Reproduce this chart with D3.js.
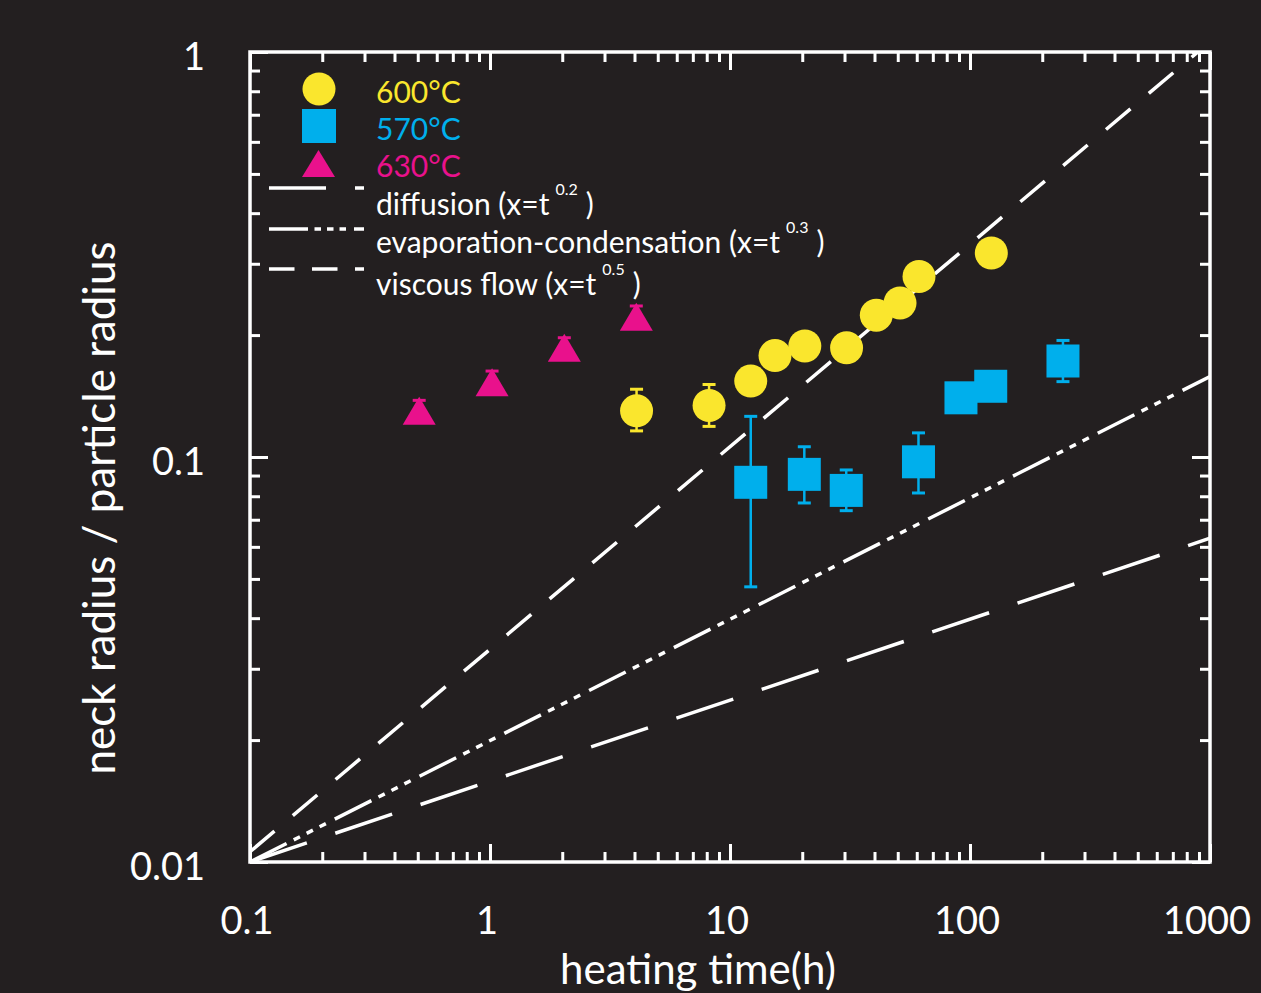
<!DOCTYPE html>
<html><head><meta charset="utf-8">
<script src="https://cdn.jsdelivr.net/npm/d3@7"></script>
<style>
html,body{margin:0;padding:0;background:#231f20;}
svg{display:block;}
text{font-family:Lato,"Open Sans",sans-serif;}
</style></head><body>
<svg id="chart" width="1261" height="993"></svg>
<script>
// ---------- data ----------
const xTickValues = [0.1, 1, 10, 100, 1000];
const xTickLabels = ["0.1", "1", "10", "100", "1000"];
const yTickValues = [0.01, 0.1, 1];
const yTickLabels = ["0.01", "0.1", "1"];

// 600°C (circles)
const t600 = [4.08, 8.18, 12.2, 15.4, 20.5, 30.6, 40.7, 51.1, 61.3, 122.7];
const r600 = [0.130, 0.134, 0.154, 0.178, 0.188, 0.186, 0.224, 0.240, 0.279, 0.319];
const r600hi = [0.147, 0.151, null, null, null, null, null, null, null, null];
const r600lo = [0.116, 0.119, null, null, null, null, null, null, null, null];

// 570°C (squares)
const t570 = [12.2, 20.4, 30.5, 61.0, 91.7, 122, 244];
const r570 = [0.0866, 0.0906, 0.0827, 0.0973, 0.140, 0.1495, 0.1726];
const r570hi = [0.126, 0.106, 0.0929, 0.1147, null, null, 0.194];
const r570lo = [0.0478, 0.077, 0.0737, 0.0815, null, null, 0.1535];

// 630°C (triangles)
const t630 = [0.507, 1.02, 2.04, 4.07];
const r630 = [0.130, 0.153, 0.186, 0.222];
const r630hi = [0.138, 0.163, 0.197, 0.236];
const r630lo = [0.122, 0.143, 0.175, 0.208];

// model lines (end points)
const diffusionLine = [[0.1, 0.01], [1000, 0.063]];
const evapLine = [[0.1, 0.01], [1000, 0.158]];
const viscousLine = [[0.1, 0.0106], [1000, 1.06]];

const seriesNames = ["600°C", "570°C", "630°C"];
const lineNames = [
  ["diffusion (x=t", "0.2"],
  ["evaporation-condensation (x=t", "0.3"],
  ["viscous flow (x=t", "0.5"]
];

// ---------- styles ----------
const BG = "#231f20";
const YELLOW = "#fae62d", BLUE = "#00afec", MAGENTA = "#e9118c", WHITE = "#ffffff";

const svg = d3.select("#chart");
svg.append("rect").attr("width", 1261).attr("height", 993).attr("fill", BG);

const L = 250, R = 1210, T = 52, B = 862;
const x = d3.scaleLog().domain([0.1, 1000]).range([L, R]);
const y = d3.scaleLog().domain([0.01, 1]).range([B, T]);

svg.append("defs").append("clipPath").attr("id", "plotclip")
  .append("rect").attr("x", L).attr("y", T).attr("width", R - L).attr("height", B - T);

// ---------- model lines ----------
const lineGen = d3.line().x(d => x(d[0])).y(d => y(d[1]));
const gl = svg.append("g").attr("clip-path", "url(#plotclip)");
const lineStyles = [
  {data: diffusionLine, dash: "60,30"},
  {data: evapLine, dash: "41,8,7,7.5,7,7.5,7,10"},
  {data: viscousLine, dash: "32,24"}
];
lineStyles.forEach(s => {
  gl.append("path").attr("d", lineGen(s.data))
    .attr("fill", "none").attr("stroke", WHITE).attr("stroke-width", 3.5)
    .attr("stroke-dasharray", s.dash);
});

// ---------- axes ticks ----------
const xMinor = x.ticks().filter(v => !xTickValues.some(m => Math.abs(m - v) / m < 1e-6));
const yMinor = y.ticks().filter(v => !yTickValues.some(m => Math.abs(m - v) / m < 1e-6));

function tickAxis(axisFn, scale, vals, size, tx, ty) {
  const g = svg.append("g").attr("transform", `translate(${tx},${ty})`)
    .call(axisFn(scale).tickValues(vals).tickSize(-size).tickFormat(""));
  g.select(".domain").remove();
  g.selectAll(".tick line").attr("stroke", WHITE).attr("stroke-width", 3);
  return g;
}
tickAxis(d3.axisBottom, x, xTickValues, 18, 0, B);
tickAxis(d3.axisBottom, x, xMinor, 10, 0, B);
tickAxis(d3.axisTop, x, xTickValues, 18, 0, T);
tickAxis(d3.axisTop, x, xMinor, 10, 0, T);
tickAxis(d3.axisLeft, y, yTickValues, 18, L, 0);
tickAxis(d3.axisLeft, y, yMinor, 10, L, 0);
tickAxis(d3.axisRight, y, yTickValues, 18, R, 0);
tickAxis(d3.axisRight, y, yMinor, 10, R, 0);

svg.append("rect").attr("x", L).attr("y", T).attr("width", R - L).attr("height", B - T)
  .attr("fill", "none").attr("stroke", WHITE).attr("stroke-width", 3.5);

// tick labels
svg.append("g").selectAll("text").data(xTickValues).join("text")
  .attr("x", d => x(d) - 3).attr("y", 934).attr("text-anchor", "middle")
  .attr("fill", WHITE).attr("font-size", 38)
  .text((d, i) => xTickLabels[i]);
svg.append("g").selectAll("text").data(yTickValues).join("text")
  .attr("x", 205).attr("y", d => y(d) + 18).attr("text-anchor", "end")
  .attr("fill", WHITE).attr("font-size", 38)
  .text((d, i) => yTickLabels[i]);

// axis titles
svg.append("text").attr("x", 698).attr("y", 984).attr("text-anchor", "middle")
  .attr("fill", WHITE).attr("font-size", 42).text("heating time(h)");
svg.append("text").attr("transform", "translate(115,508) rotate(-90)")
  .attr("text-anchor", "middle").attr("fill", WHITE).attr("font-size", 44)
  .text("neck radius / particle radius");

// ---------- markers ----------
function errorBars(ts, hi, lo, color, cap) {
  const g = svg.append("g").attr("stroke", color);
  ts.forEach((t, i) => {
    if (hi[i] == null) return;
    const cx = x(t);
    g.append("line").attr("x1", cx).attr("x2", cx).attr("y1", y(hi[i])).attr("y2", y(lo[i]))
      .attr("stroke-width", 2.5);
    [hi[i], lo[i]].forEach(v => {
      g.append("line").attr("x1", cx - cap / 2).attr("x2", cx + cap / 2)
        .attr("y1", y(v)).attr("y2", y(v)).attr("stroke-width", 3);
    });
  });
}

errorBars(t630, r630hi, r630lo, MAGENTA, 13);
errorBars(t600, r600hi, r600lo, YELLOW, 13);
errorBars(t570, r570hi, r570lo, BLUE, 13);

const triPath = (cx, cy, w, h) => `M${cx},${cy - h / 2}L${cx + w / 2},${cy + h / 2}L${cx - w / 2},${cy + h / 2}Z`;

svg.append("g").selectAll("path").data(t630).join("path")
  .attr("d", (d, i) => triPath(x(d), y(r630[i]), 33, 28)).attr("fill", MAGENTA);
svg.append("g").selectAll("circle").data(t600).join("circle")
  .attr("cx", d => x(d)).attr("cy", (d, i) => y(r600[i])).attr("r", 16.5).attr("fill", YELLOW);
svg.append("g").selectAll("rect").data(t570).join("rect")
  .attr("x", d => x(d) - 16.5).attr("y", (d, i) => y(r570[i]) - 16.5)
  .attr("width", 33).attr("height", 33).attr("fill", BLUE);

// ---------- legend ----------
const lg = svg.append("g");
lg.append("circle").attr("cx", 319).attr("cy", 89).attr("r", 16.5).attr("fill", YELLOW);
lg.append("rect").attr("x", 302).attr("y", 109).attr("width", 34).attr("height", 34).attr("fill", BLUE);
lg.append("path").attr("d", triPath(318.5, 163.5, 33, 27)).attr("fill", MAGENTA);
const legColors = [YELLOW, BLUE, MAGENTA];
const legBase = [103, 140, 177];
seriesNames.forEach((n, i) => {
  lg.append("text").attr("x", 376).attr("y", legBase[i]).attr("fill", legColors[i])
    .attr("font-size", 30).text(n);
});
const legLineY = [188, 229, 269];
const legDash = ["57,29", "39,6.5,6.5,6,6.5,6,6.5,8", "25.5,17.5"];
const legTextBase = [215, 253, 295];
lineNames.forEach((n, i) => {
  lg.append("line").attr("x1", 269).attr("x2", 364).attr("y1", legLineY[i]).attr("y2", legLineY[i])
    .attr("stroke", WHITE).attr("stroke-width", 3.5).attr("stroke-dasharray", legDash[i]);
  const t = lg.append("text").attr("x", 376).attr("y", legTextBase[i]).attr("fill", WHITE).attr("font-size", 30);
  t.append("tspan").text(n[0]);
  t.append("tspan").attr("font-size", 16).attr("dx", 6).attr("dy", -20).text(n[1]);
  t.append("tspan").attr("dx", 8).attr("dy", 20).text(")");
});
</script>
</body></html>
